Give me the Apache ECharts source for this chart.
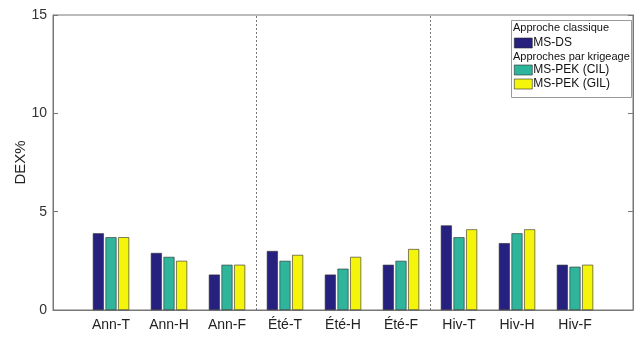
<!DOCTYPE html>
<html>
<head>
<meta charset="utf-8">
<script src="https://cdn.jsdelivr.net/npm/echarts@6/dist/echarts.min.js"></script>
<style>
  html, body { margin: 0; padding: 0; background: #fff; }
  #chart { width: 641px; height: 339px; }
</style>
</head>
<body>
<div id="chart"></div>
<script>
// Scenario labels (empty slots pad the axis to 0..10 like the original plot)
const categories = ['Ann-T', 'Ann-H', 'Ann-F', 'Été-T', 'Été-H', 'Été-F', 'Hiv-T', 'Hiv-H', 'Hiv-F'];
// DEX% per scenario
const msDS   = [3.9, 2.9, 1.8, 3.0, 1.8, 2.3, 4.3, 3.4, 2.3];
const pekCIL = [3.7, 2.7, 2.3, 2.5, 2.1, 2.5, 3.7, 3.9, 2.2];
const pekGIL = [3.7, 2.5, 2.3, 2.8, 2.7, 3.1, 4.1, 4.1, 2.3];
const yTicks = [0, 5, 10, 15];
// season separators, in axis units
const separators = [3.5, 6.5];

const axisCats = [''].concat(categories, ['']);
const pad = arr => [null].concat(arr, [null]);

const font = 'Liberation Sans, Arial, sans-serif';
const colors = { ds: '#26217f', cil: '#2fb59c', gil: '#f5f50c' };

const barBase = {
  type: 'bar',
  barWidth: 11,
  barGap: '15%',
  xAxisIndex: 0,
  yAxisIndex: 0,
  itemStyle: { borderColor: '#2a2a2a', borderWidth: 0.6 },
  emphasis: { disabled: true }
};

const legendBase = {
  left: 514,
  orient: 'vertical',
  icon: 'rect',
  itemGap: 2,
  itemWidth: 18, itemHeight: 10,
  textStyle: { color: '#111', fontSize: 12, fontFamily: font, padding: [0, 0, 0, -4] },
  itemStyle: { borderColor: '#2a2a2a', borderWidth: 0.6 },
  padding: 0
};

const chart = echarts.init(document.getElementById('chart'), null, { renderer: 'canvas' });
chart.setOption({
  animation: false,
  backgroundColor: '#fff',
  textStyle: { fontFamily: font },
  grid: { left: 53, right: 8, top: 15, bottom: 29, show: true, borderColor: '#777', borderWidth: 1, backgroundColor: 'transparent' },
  xAxis: [
    {
      type: 'category',
      data: axisCats,
      boundaryGap: false,
      axisLine: { show: true, lineStyle: { color: '#777', width: 1 } },
      axisTick: { show: false },
      axisLabel: { interval: 0, color: '#222', fontSize: 14, fontFamily: font, margin: 8 },
      splitLine: { show: false }
    },
    {
      type: 'value',
      min: 0, max: 10,
      show: false
    }
  ],
  yAxis: [
    {
      type: 'value',
      min: 0, max: 15, interval: 5,
      name: 'DEX%',
      nameLocation: 'middle',
      nameGap: 25,
      nameMoveOverlap: false,
      nameTextStyle: { color: '#222', fontSize: 15, fontFamily: font },
      axisLine: { show: true, lineStyle: { color: '#777' } },
      axisTick: { show: true, inside: true, length: 5, lineStyle: { color: '#777' } },
      axisLabel: {
        color: '#333', fontSize: 14, fontFamily: font, margin: 6,
        formatter: v => (yTicks.indexOf(v) >= 0 ? String(v) : '')
      },
      splitLine: { show: false }
    },
    {
      type: 'value',
      position: 'right',
      min: 0, max: 15, interval: 5,
      axisLine: { show: true, lineStyle: { color: '#777' } },
      axisTick: { show: true, inside: true, length: 5, lineStyle: { color: '#777' } },
      axisLabel: { show: false },
      splitLine: { show: false }
    }
  ],
  legend: [
    Object.assign({}, legendBase, { data: ['MS-DS'], top: 37 }),
    Object.assign({}, legendBase, { data: ['MS-PEK (CIL)', 'MS-PEK (GIL)'], top: 64 })
  ],
  graphic: [
    { type: 'rect', left: 511, top: 20, z: 0,
      shape: { width: 120, height: 77 },
      style: { fill: '#fff', stroke: '#999', lineWidth: 1 } },
    { type: 'text', left: 513, top: 22, z: 10,
      style: { text: 'Approche classique', fill: '#111', font: '11px ' + font } },
    { type: 'text', left: 513, top: 51, z: 10,
      style: { text: 'Approches par krigeage', fill: '#111', font: '11px ' + font } }
  ],
  series: [
    Object.assign({}, barBase, { name: 'MS-DS', data: pad(msDS), itemStyle: Object.assign({}, barBase.itemStyle, { color: colors.ds }) }),
    Object.assign({}, barBase, { name: 'MS-PEK (CIL)', data: pad(pekCIL), itemStyle: Object.assign({}, barBase.itemStyle, { color: colors.cil }) }),
    Object.assign({}, barBase, { name: 'MS-PEK (GIL)', data: pad(pekGIL), itemStyle: Object.assign({}, barBase.itemStyle, { color: colors.gil }) }),
    {
      type: 'line',
      xAxisIndex: 1,
      yAxisIndex: 0,
      data: [[0, 0], [10, 0]],
      showSymbol: false,
      lineStyle: { opacity: 0 },
      silent: true,
      tooltip: { show: false },
      markLine: {
        silent: true,
        symbol: 'none',
        label: { show: false },
        lineStyle: { color: '#777', width: 1, type: [2, 2] },
        data: separators.map(x => ({ xAxis: x }))
      }
    }
  ]
});
</script>
</body>
</html>
